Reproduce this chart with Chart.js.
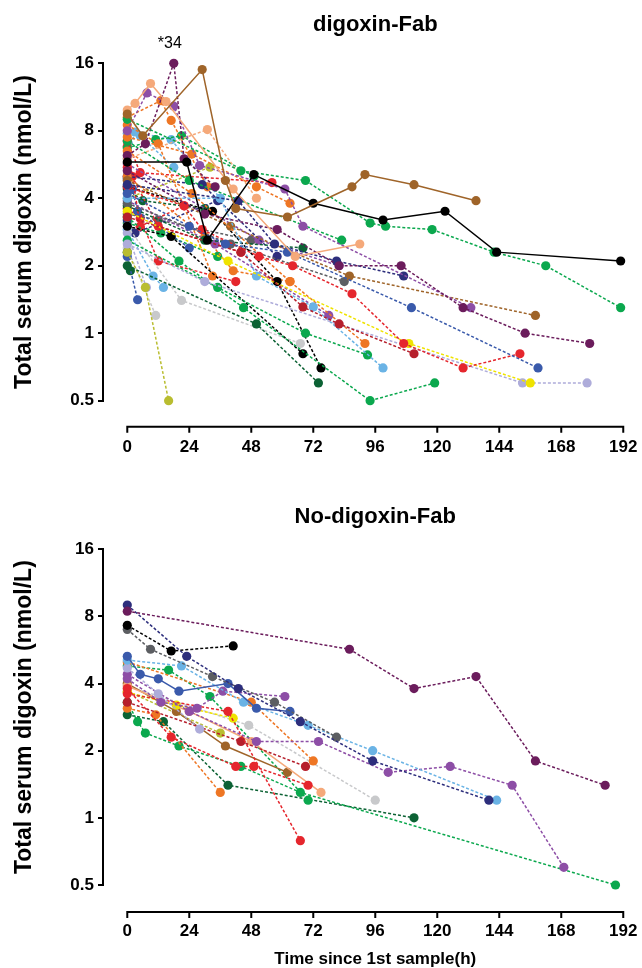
<!DOCTYPE html>
<html><head><meta charset="utf-8">
<script src="https://cdn.jsdelivr.net/npm/chart.js@4.4.1/dist/chart.umd.min.js"></script>
<style>
html,body{margin:0;padding:0;background:#fff;}
#wrap{position:relative;width:642px;height:968px;overflow:hidden;}
#c1{position:absolute;left:0;top:0;}
#c2{position:absolute;left:0;top:480px;}
</style></head><body>
<div id="wrap"><canvas id="c1" width="642" height="480"></canvas><canvas id="c2" width="642" height="488"></canvas></div>
<script>
// ---------- tick labels & texts ----------
const xTicks = [0,24,48,72,96,120,144,168,192];
const yTicks = [0.5,1,2,4,8,16];
const topTitle = 'digoxin-Fab';
const bottomTitle = 'No-digoxin-Fab';
const yTitle = 'Total serum digoxin (nmol/L)';
const xTitle = 'Time since 1st sample(h)';
const annotText = '*34';

// ---------- digoxin-Fab patients: [time h, concentration nmol/L] ----------
const fab01 = [[0,9.5],[6,7.6],[29,15],[38,4.8],[42,3.6],[62,3.3],[87,4.5],[92,5.1],[111,4.6],[135,3.9]];
const fab02 = [[0,5.8],[23,5.8],[31,2.6],[49,5.1],[72,3.8],[99,3.2],[123,3.5],[143,2.3],[191,2.1]];
const fab03 = [[0,9.0],[44,5.3],[69,4.8],[94,3.1],[100,3.0],[118,2.9],[142,2.3],[162,2.0],[191,1.3]];
const fab04 = [[0,9.9],[3,10.6],[9,13],[15,10.8],[41,4.4],[65,2.2],[90,2.5]];
const fab05 = [[0,6.2],[7,7.0],[18,16],[22,6.0],[34,4.5]];
const fab06 = [[0,5.3],[30,3.4],[58,2.9],[82,2.0],[106,2.0],[130,1.3],[154,1.0],[179,0.9]];
const fab07 = [[0,8.0],[7.6,11.8],[18,10.3],[28,5.6],[61,4.4],[68,3.0],[133,1.3]];
const fab08 = [[0,4.6],[43,3.9],[57,2.5],[81,2.1],[107,1.8]];
const fab09 = [[0,4.2],[24,3.0],[38,2.5],[62,2.3],[110,1.3],[159,0.7]];
const fab10 = [[0,4.5],[22,3.7],[29,2.9],[51,2.2],[64,2.0],[87,1.5],[107,0.9],[130,0.7],[152,0.81]];
const fab11 = [[0,3.3],[44,2.3],[68,1.31],[82,1.1],[111,0.81]];
const fab12 = [[0,3.5],[39,2.1],[109,0.9],[156,0.6]];
const fab13 = [[0,2.5],[30,1.7],[153,0.6],[178,0.6]];
const fab14 = [[0,4.0],[36,4.0],[50,1.8],[72,1.31],[99,0.7]];
const fab15 = [[0,6.5],[25,4.2],[63,1.7],[92,0.9]];
const fab16 = [[0,7.5],[25,6.3],[50,4.5],[63,3.8]];
const fab17 = [[0,4.8],[40,3.0],[86,1.8],[158,1.2]];
const fab18 = [[0,3.3],[20,2.1],[45,1.3],[94,0.5],[119,0.6]];
const fab19 = [[0,2.6],[35,1.6],[69,1.0],[93,0.8]];
const fab20 = [[0,7.2],[24,4.8],[83,2.6]];
const fab21 = [[0,3.0],[17,2.7],[68,0.81]];
const fab22 = [[0,4.5],[33,3.5],[58,1.7],[75,0.7]];
const fab23 = [[0,2.0],[50,1.1],[74,0.6]];
const fab24 = [[0,3.0],[21,1.4],[67,0.9]];
const fab25 = [[0,2.3],[7,1.6],[16,0.5]];
const fab26 = [[0,3.8],[40,2.5],[84,1.7]];
const fab27 = [[0,3.7],[30,2.6],[68,2.4]];
const fab28 = [[0,3.9],[34,2.5],[78,1.2]];
const fab29 = [[0,5.0],[30,2.7],[41,1.9],[63,1.7]];
const fab30 = [[0,6.0],[31,8.1],[50,4.0]];
const fab31 = [[0,5.0],[29,4.6],[58,2.2]];
const fab32 = [[0,2.2],[4,1.41]];
const fab33 = [[0,2.8],[7.4,1.6]];
const fab34 = [[0,2.9],[10,1.8],[14,1.6]];
const fab35 = [[0,2.3],[1.2,1.9]];
const fab36 = [[0,5.5],[12,3.0],[44,2.3]];
const fab37 = [[0,5.7],[51,2.6],[82,2.0]];
const fab38 = [[0,8.5],[12,7.0],[33,1.8]];
const fab39 = [[0,2.4],[11,1.2]];
const fab40 = [[0,7.2],[5,5.2],[56,4.7]];
const fab41 = [[0,7.8],[5,7.6],[18,5.5]];
const fab42 = [[0,4.0],[32,5.5]];
const fab43 = [[0,9.2],[13,10.9],[17,8.9],[31,4.5]];
const fab44 = [[0,6.7],[11,7.3],[21,7.6],[49,5.0]];
const fab45 = [[0,6.0],[3,7.9],[17,7.3],[36,4.0]];
const fab46 = [[0,6.8],[2,5.0],[5,3.0],[22,3.7]];
const fab47 = [[0,4.9],[2,4.4],[4,3.5],[24,2.4]];
const fab48 = [[0,3.2],[3,2.8],[35,3.9]];
const fab49 = [[0,4.4],[6,3.9],[30,3.6]];
const fab50 = [[0,3.4],[12,3.2],[48,2.6]];
const fab51 = [[0,3.6],[5,3.25],[12,2.1],[42,1.7]];
const fab52 = [[0,3.1],[13,2.8],[35,2.2]];

// ---------- No-digoxin-Fab patients ----------
const nof01 = [[0,8.45],[86,5.7],[111,3.8],[135,4.3],[158,1.8],[185,1.4]];
const nof02 = [[0,9.0],[23,5.3],[43,3.8],[67,2.7],[95,1.8],[140,1.2]];
const nof03 = [[0,7.3],[17,5.6],[41,5.9]];
const nof04 = [[0,7.0],[9,5.7],[33,4.3],[57,3.3],[81,2.3]];
const nof05 = [[0,5.3],[5,4.4],[12,4.2],[20,3.7],[39,4.0],[50,3.1],[63,3.0]];
const nof06 = [[0,5.1],[21,4.8],[45,3.3],[70,2.6],[95,2.0],[143,1.2]];
const nof07 = [[0,4.7],[12,3.6],[28,2.5]];
const nof08 = [[0,4.2],[13,3.3],[27,3.1],[37,3.7],[61,3.5]];
const nof09 = [[0,4.4],[24,3.0],[50,2.2],[74,2.2],[101,1.6],[125,1.7],[149,1.4],[169,0.6]];
const nof10 = [[0,3.8],[17,2.3],[42,1.7],[49,1.7],[70,1.4]];
const nof11 = [[0,3.6],[39,3.0],[67,0.79]];
const nof12 = [[0,3.3],[44,2.2],[69,1.7]];
const nof13 = [[0,3.66],[19,3.2],[41,2.8]];
const nof14 = [[0,3.1],[11,2.9],[36,1.3]];
const nof15 = [[0,5.0],[48,3.3],[72,1.8]];
const nof16 = [[0,3.9],[24,3.0],[48,2.2],[75,1.3]];
const nof17 = [[0,4.0],[19,3.0],[38,2.1],[62,1.6]];
const nof18 = [[0,3.3],[4,2.7],[7,2.4],[20,2.1],[44,1.7],[67,1.3],[189,0.5]];
const nof19 = [[0,4.8],[16,4.6],[32,3.5],[70,1.2]];
const nof20 = [[0,2.9],[14,2.7],[39,1.4],[111,1.0]];
const nof21 = [[0,3.9],[47,2.6],[96,1.2]];
const nof22 = [[0,3.7],[36,2.4]];

const fabSeries = [fab01,fab02,fab03,fab04,fab05,fab06,fab07,fab08,fab09,fab10,fab11,fab12,fab13,fab14,fab15,fab16,fab17,fab18,fab19,fab20,fab21,fab22,fab23,fab24,fab25,fab26,fab27,fab28,fab29,fab30,fab31,fab32,fab33,fab34,fab35,fab36,fab37,fab38,fab39,fab40,fab41,fab42,fab43,fab44,fab45,fab46,fab47,fab48,fab49,fab50,fab51,fab52];
const nofSeries = [nof01,nof02,nof03,nof04,nof05,nof06,nof07,nof08,nof09,nof10,nof11,nof12,nof13,nof14,nof15,nof16,nof17,nof18,nof19,nof20,nof21,nof22];

// ---------- styles ----------
const COLORS = {
  darkpurple:'#6b1c5c', purple:'#8d4ea6', navy:'#2d2e7c', blue:'#3a5aab', lightblue:'#6ab3e5',
  lavender:'#aeacda', black:'#000000', grey:'#5c5e62', lightgrey:'#c8c9cb', green:'#0ba84e',
  darkgreen:'#0c6234', red:'#e5262d', darkred:'#b61f2c', orange:'#ee7624', lightorange:'#f5a97a',
  brown:'#9f6429', yellow:'#efe300', olive:'#b9bd30'
};
const fabColorNames = ['brown','black','green','lightorange','darkpurple','darkpurple','purple','navy','blue','red','darkred','yellow','lavender','lightblue','orange','orange','brown','green','green','green','black','black','darkgreen','lightgrey','olive','grey','darkgreen','purple','orange','lightorange','navy','blue','lavender','lightblue','darkgreen','red','purple','orange','lightgrey','red','lightblue','olive','orange','green','lightblue','red','blue','navy','darkgreen','grey','red','green'];
const fabSolid = [0,1,3];
const nofColorNames = ['darkpurple','navy','black','grey','blue','lightblue','lavender','purple','purple','red','red','darkred','yellow','orange','orange','lightorange','brown','green','green','darkgreen','lightgrey','olive'];
const nofSolid = [4,15,16];

const FONT = '"Liberation Sans", Arial, sans-serif';

function makeDatasets(series, colorNames, solid) {
  return series.map((s, i) => {
    const c = COLORS[colorNames[i]];
    return {
      data: s.map(p => ({x: p[0], y: p[1]})),
      borderColor: c, backgroundColor: c, pointBackgroundColor: c, pointBorderColor: c,
      borderWidth: 1.5,
      borderDash: solid.includes(i) ? [] : [3, 2],
      pointRadius: 4.6, pointBorderWidth: 0, pointHoverRadius: 4.6,
      tension: 0, fill: false, clip: false
    };
  });
}

const prismPlugin = {
  id: 'prism',
  afterDraw(chart, args, o) {
    const {ctx, chartArea, scales: {x, y}} = chart;
    const lineY = chartArea.bottom + o.gap;
    const x0 = x.getPixelForValue(xTicks[0]);
    const x1 = x.getPixelForValue(xTicks[xTicks.length - 1]);
    ctx.save();
    ctx.strokeStyle = '#000'; ctx.lineWidth = 2; ctx.lineCap = 'butt';
    ctx.beginPath();
    ctx.moveTo(x0 - 1, lineY); ctx.lineTo(x1 + 1, lineY);
    xTicks.forEach(t => { const px = x.getPixelForValue(t); ctx.moveTo(px, lineY); ctx.lineTo(px, lineY + 6); });
    ctx.stroke();
    ctx.fillStyle = '#000'; ctx.textAlign = 'center'; ctx.textBaseline = 'middle';
    ctx.font = 'bold 22px ' + FONT;
    ctx.fillText(o.title, (x0 + x1) / 2, o.titleY);
    if (o.xTitle) {
      ctx.font = 'bold 17px ' + FONT;
      ctx.fillText(o.xTitle, (x0 + x1) / 2, o.xTitleY);
    }
    if (o.annot) {
      const p = o.annot.point;
      ctx.font = '16px ' + FONT;
      ctx.fillText(o.annot.text, x.getPixelForValue(p[0]) - 4, y.getPixelForValue(p[1]) - 20);
    }
    ctx.restore();
  }
};

function makeConfig(series, colorNames, solid, cfg) {
  return {
    type: 'line',
    data: {datasets: makeDatasets(series, colorNames, solid)},
    plugins: [prismPlugin],
    options: {
      responsive: false, animation: false, events: [],
      layout: {padding: {top: cfg.padTop, left: 0, right: 11, bottom: 0}},
      plugins: {legend: {display: false}, tooltip: {enabled: false}, prism: cfg.prism},
      scales: {
        x: {
          type: 'linear', min: -9.4, max: 195,
          afterBuildTicks: s => { s.ticks = xTicks.map(v => ({value: v})); },
          afterFit: s => { s.height = cfg.xHeight; s.paddingLeft = 0; s.paddingRight = 0; },
          grid: {display: false, drawTicks: false},
          border: {display: false},
          ticks: {padding: 36, color: '#000', autoSkip: false, maxRotation: 0, font: {family: FONT, size: 17, weight: 'bold'}}
        },
        y: {
          type: 'logarithmic', min: 0.5, max: 16,
          afterBuildTicks: s => { s.ticks = yTicks.map(v => ({value: v})); },
          afterFit: s => { s.width = 103; s.paddingTop = 0; s.paddingBottom = 0; },
          grid: {display: true, drawOnChartArea: false, drawTicks: true, tickLength: 5, color: '#000', lineWidth: 2},
          border: {display: true, color: '#000', width: 2},
          ticks: {padding: 4, color: '#000', autoSkip: false, font: {family: FONT, size: 17, weight: 'bold'}, callback: v => String(v)},
          title: {display: true, text: yTitle, color: '#000', font: {family: FONT, size: 23, weight: 'bold'}, padding: {top: 11, bottom: 0}}
        }
      }
    }
  };
}

new Chart(document.getElementById('c1'), makeConfig(fabSeries, fabColorNames, fabSolid, {
  padTop: 63.3, xHeight: 79.3,
  prism: {gap: 26, title: topTitle, titleY: 25, annot: {text: annotText, point: fab05[2]}}
}));
new Chart(document.getElementById('c2'), makeConfig(nofSeries, nofColorNames, nofSolid, {
  padTop: 69.3, xHeight: 83,
  prism: {gap: 27, title: bottomTitle, titleY: 37, xTitle: xTitle, xTitleY: 479}
}));
</script></body></html>
